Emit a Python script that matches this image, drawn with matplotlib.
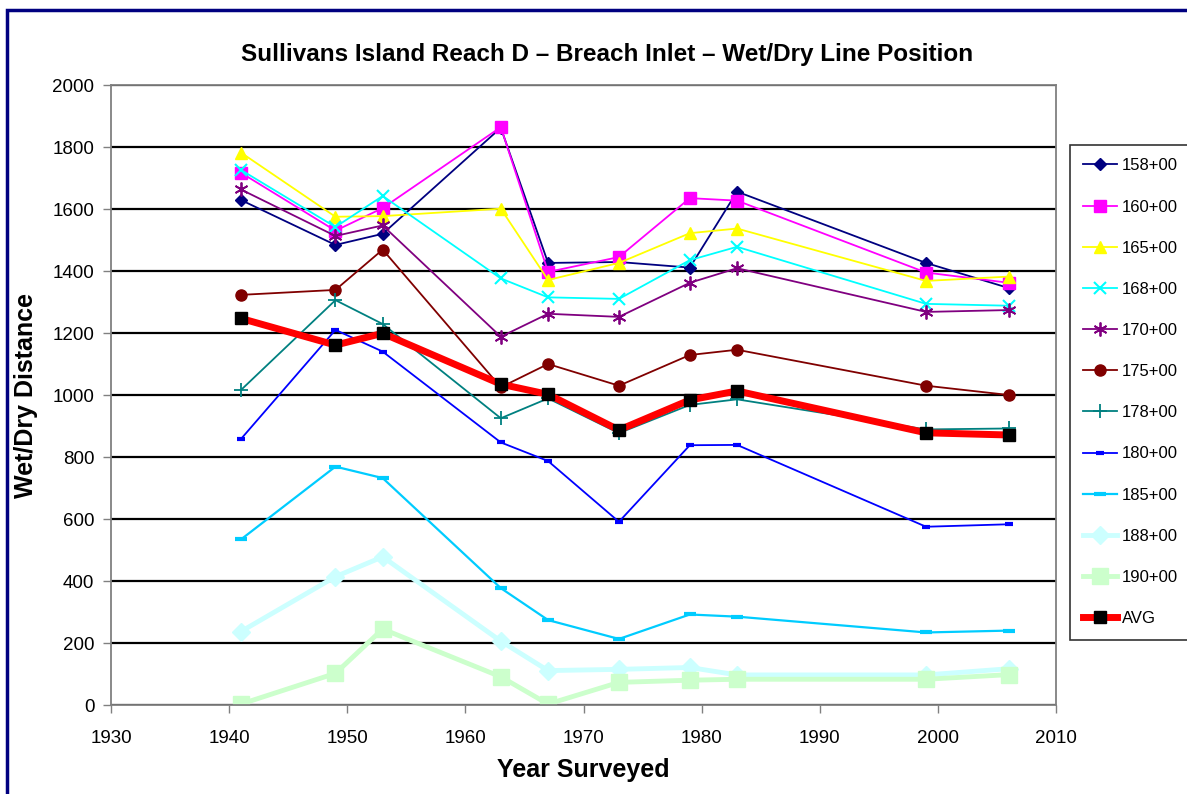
import numpy as np
import matplotlib
matplotlib.use('Agg')
import matplotlib.pyplot as plt
from matplotlib.patches import Rectangle

plt.rcParams['font.family'] = ['Liberation Sans', 'DejaVu Sans']

years = [1941, 1949, 1953, 1963, 1967, 1973, 1979, 1983, 1999, 2006]

s158 = [1629, 1484, 1520, 1862, 1426, 1429, 1411, 1656, 1426, 1345]
s160 = [1717, 1530, 1603, 1864, 1397, 1445, 1635, 1627, 1395, 1362]
s165 = [1782, 1575, 1577, 1601, 1371, 1426, 1522, 1537, 1368, 1382]
s168 = [1726, 1542, 1642, 1376, 1315, 1310, 1435, 1478, 1294, 1288]
s170 = [1663, 1513, 1547, 1188, 1262, 1252, 1362, 1409, 1268, 1274]
s175 = [1323, 1339, 1469, 1025, 1100, 1030, 1129, 1146, 1030, 1000]
s178 = [1016, 1306, 1229, 925, 989, 877, 968, 986, 889, 892]
s180 = [858, 1210, 1140, 847, 787, 591, 838, 839, 575, 583]
s185 = [534, 769, 732, 377, 274, 213, 292, 285, 234, 240]
s188 = [237, 414, 478, 206, 111, 115, 121, 97, 97, 117]
s190 = [3, 102, 245, 91, 3, 73, 80, 83, 83, 98]
avg = [1247, 1161, 1199, 1035, 1002, 887, 984, 1013, 878, 871]

labels = ['158+00', '160+00', '165+00', '168+00', '170+00', '175+00',
          '178+00', '180+00', '185+00', '188+00', '190+00', 'AVG']

fig = plt.figure(figsize=(11.87, 7.94), dpi=100)
ax = fig.add_axes([111/1187, 89/794, 945/1187, 620/794])

# series style: colour, marker, marker size, line width
ax.plot(years, s158, color='#000080', marker='D', ms=6, lw=1.3, label=labels[0])
ax.plot(years, s160, color='#FF00FF', marker='s', ms=8, lw=1.3, label=labels[1])
ax.plot(years, s165, color='#FFFF00', marker='^', ms=9, lw=1.3, label=labels[2])
ax.plot(years, s168, color='#00FFFF', marker='x', ms=9, mew=1.5, lw=1.3, label=labels[3])
ax.plot(years, s170, color='#800080', marker=(6, 2, 0), ms=10, mew=1.3, lw=1.3, label=labels[4])
ax.plot(years, s175, color='#800000', marker='o', ms=8, lw=1.3, label=labels[5])
ax.plot(years, s178, color='#008080', marker='+', ms=10, mew=1.3, lw=1.3, label=labels[6])
ax.plot(years, s180, color='#0000FF', marker='_', ms=6, mew=3, lw=1.3, label=labels[7])
ax.plot(years, s185, color='#00CCFF', marker='_', ms=8, mew=3, lw=1.6, label=labels[8])
ax.plot(years, s188, color='#CCFFFF', marker='D', ms=9, lw=3.5, label=labels[9])
ax.plot(years, s190, color='#CCFFCC', marker='s', ms=12, lw=3.5, label=labels[10])
ax.plot(years, avg, color='#FF0000', marker='s', ms=9, mfc='black', mec='black', lw=5, label=labels[11])

ax.set_xlim(1930, 2010)
ax.set_ylim(0, 2000)
ax.set_xticks(np.arange(1930, 2011, 10))
ax.set_yticks(np.arange(0, 2001, 200))
ax.yaxis.grid(True, color='black', lw=1.6)
ax.set_axisbelow(True)
for sp in ax.spines.values():
    sp.set_color('#808080')
    sp.set_linewidth(1.3)
ax.tick_params(axis='both', colors='#808080', labelcolor='black', labelsize=13.5,
               length=6, width=1, direction='out')
ax.tick_params(axis='x', pad=12)
ax.tick_params(axis='y', pad=6)

ax.set_xlabel('Year Surveyed', fontsize=18, fontweight='bold', labelpad=8)
ax.set_ylabel('Wet/Dry Distance', fontsize=18, fontweight='bold', labelpad=10)
fig.text(607/1187, 1 - 55/794, 'Sullivans Island Reach D \u2013 Breach Inlet \u2013 Wet/Dry Line Position',
         ha='center', va='center', fontsize=17.5, fontweight='bold')

leg = fig.legend(loc='upper left', bbox_to_anchor=(1070/1187, 1 - 145/794),
                 frameon=True, fancybox=False, edgecolor='black',
                 fontsize=12, labelspacing=1.57, handlelength=2.0,
                 borderpad=0.8, handletextpad=0.3, borderaxespad=0)
leg.get_frame().set_linewidth(1.2)

# outer navy border of the chart area (cut off at right and bottom)
fig.patches.append(Rectangle((7/1187, -0.05), 1.2, 1 - 10/794 + 0.05,
                             transform=fig.transFigure, fill=False,
                             edgecolor='#000080', lw=2.5))

fig.savefig('out.png', dpi=100)
